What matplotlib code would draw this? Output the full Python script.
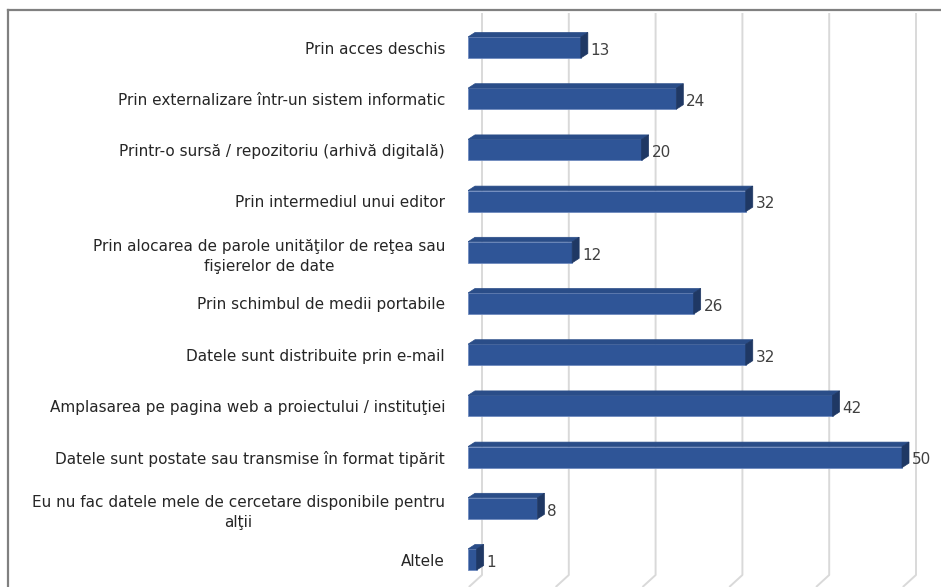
import numpy as np
import matplotlib.pyplot as plt
from matplotlib.patches import Polygon
from matplotlib.lines import Line2D

# categories (top to bottom) and counts
labels = [
    "Prin acces deschis",
    "Prin externalizare într-un sistem informatic",
    "Printr-o sursă / repozitoriu (arhivă digitală)",
    "Prin intermediul unui editor",
    "Prin alocarea de parole unităţilor de reţea sau\nfişierelor de date",
    "Prin schimbul de medii portabile",
    "Datele sunt distribuite prin e-mail",
    "Amplasarea pe pagina web a proiectului / instituţiei",
    "Datele sunt postate sau transmise în format tipărit",
    "Eu nu fac datele mele de cercetare disponibile pentru\nalţii",
    "Altele",
]
values = [13, 24, 20, 32, 12, 26, 32, 42, 50, 8, 1]
grid_ticks = [0, 10, 20, 30, 40, 50]

plt.rcParams['font.family'] = ['DejaVu Sans']

W, H = 941, 587
fig = plt.figure(figsize=(W / 100, H / 100), dpi=100)

# pixel geometry of the plot area
x0_px, px_per_unit = 468, 8.68
y0_px, px_per_cat = 47.5, 51.2
ax_left_px, ax_right_px = 468, 935
ax_top_px, ax_bot_px = 13, 587

ax = fig.add_axes([ax_left_px / W, 1 - ax_bot_px / H,
                   (ax_right_px - ax_left_px) / W, (ax_bot_px - ax_top_px) / H])
ax.set_xlim((ax_left_px - x0_px) / px_per_unit, (ax_right_px - x0_px) / px_per_unit)
ax.set_ylim((ax_bot_px - y0_px) / px_per_cat, (ax_top_px - y0_px) / px_per_cat)

# 3d depth in data units
dx = 7 / px_per_unit
dy = 4.5 / px_per_cat
h = 21 / px_per_cat

# back-wall gridlines with a slanted floor part
gdx = 14 / px_per_unit
floor_y = (575 - y0_px) / px_per_cat
ymin, ymax = ax.get_ylim()[1], ax.get_ylim()[0]
for t in grid_ticks:
    ax.plot([t + gdx, t + gdx, t + 0.1], [ymin, floor_y, ymax],
            color='#d9d9d9', lw=1.4, zorder=0, solid_capstyle='butt')

ypos = np.arange(len(values))
front, top, side = '#2f5597', '#2a4d88', '#1f3864'
ax.barh(ypos, values, height=h, color=front, edgecolor='#6f8bbf', lw=0.6, zorder=3)
for y, v in zip(ypos, values):
    yt, yb = y - h / 2, y + h / 2
    ax.add_patch(Polygon([(0, yt), (v, yt), (v + dx, yt - dy), (dx, yt - dy)],
                         closed=True, fc=top, ec=top, lw=0.5, zorder=3))
    ax.add_patch(Polygon([(v, yt), (v + dx, yt - dy), (v + dx, yb - dy), (v, yb)],
                         closed=True, fc=side, ec=side, lw=0.5, zorder=3))
    ax.annotate(str(v), (v + dx, y), xytext=(2, -2), textcoords='offset points',
                ha='left', va='center', fontsize=11, color='#404040')

ax.set_yticks(ypos)
ax.set_yticklabels(labels, fontsize=11, color='#262626', linespacing=1.45)
for lab in ax.get_yticklabels():
    lab.set_multialignment('center')
ax.tick_params(axis='y', length=0, pad=16.5)
ax.set_xticks([])
for s in ax.spines.values():
    s.set_visible(False)
ax.patch.set_alpha(0)

# chart frame
fig.add_artist(Line2D([8 / W, 1], [1 - 10 / H, 1 - 10 / H], color='#808080', lw=1.6))
fig.add_artist(Line2D([8 / W, 8 / W], [0, 1 - 10 / H], color='#808080', lw=1.6))

fig.savefig('out.png', dpi=100)
